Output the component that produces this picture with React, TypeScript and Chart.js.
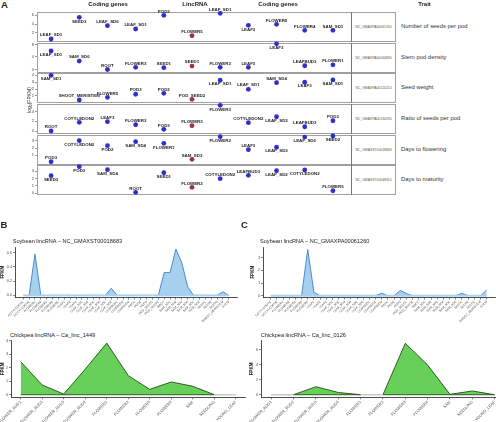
import React, { useEffect, useRef } from "react";
import { Chart, registerables } from "chart.js";
Chart.register(...registerables);

const FONT = "'Liberation Sans', Arial, Helvetica, sans-serif";

// ---------------- Panel A data ----------------
const slotKinds = ["coding", "coding", "coding", "coding", "coding", "lincRNA", "coding", "coding", "coding", "coding", "coding"];
const traitNames = ["Number of seeds per pod", "Stem pod density", "Seed weight", "Ratio of seeds per pod", "Days to flowering", "Days to maturity"];
const lincRnaIds = ["NC_GMAXPA00061260", "NC_GMAXPA00064830", "NC_GMAXPA00120210", "NC_GMAXPA00130290", "NC_GMAXST00018683", "NC_GMAXST00048315"];

const row1Tissues = ["LEAF_SD1", "SEED3", "LEAF_SD6", "LEAF_SD1", "POD3", "FLOWER5", "LEAF_SD1", "LEAF3", "FLOWER5", "FLOWER4", "SAM_SD1"];
const row1Log2Fpkm = [0.67, 5.49, 3.62, 2.89, 5.93, 1.4, 6.38, 3.71, 3.93, 2.6, 2.6];
const row1LabelSide = ["up", "down", "up", "up", "up", "up", "up", "down", "up", "up", "up"];
const row1Range = [0.22, 6.67];
const row1Ticks = [2, 4, 6];

const row2Tissues = ["LEAF_SD1", "SAM_SD6", "ROOT", "FLOWER3", "SEED1", "SEED1", "FLOWER3", "LEAF3", "LEAF3", "LEAFBUD3", "FLOWER1"];
const row2Log2Fpkm = [5.9, 2.7, 0, 0.7, 0.57, 1.1, 0.7, 0.7, 8.2, 1.2, 1.5];
const row2LabelSide = ["down", "up", "up", "up", "up", "up", "up", "up", "down", "up", "up"];
const row2Range = [-0.8, 8.45];
const row2Ticks = [0, 2, 4, 6, 8];

const row3Tissues = ["SAM_SD1", "SHOOT_MERISTEM", "FLOWER5", "POD3", "POD2", "POD_SEED2", "LEAF_SD1", "LEAF_SD1", "SAM_SD4", "LEAF3", "SAM_SD1"];
const row3Log2Fpkm = [4.0, 0.42, 0.81, 1.25, 1.39, 0.52, 3.28, 1.97, 2.93, 2.99, 3.32];
const row3LabelSide = ["down", "up", "up", "up", "up", "up", "down", "up", "up", "down", "down"];
const row3Range = [0.13, 4.33];
const row3Ticks = [1, 2, 3, 4];

const row4Tissues = ["ROOT", "COTYLEDON2", "LEAF3", "FLOWER3", "POD3", "FLOWER3", "FLOWER3", "COTYLEDON2", "LEAF_SD3", "LEAFBUD3", "POD2"];
const row4Log2Fpkm = [0, 1.8, 1.93, 1.3, 0.35, 1.1, 5.32, 1.72, 2.96, 0.89, 2.13];
const row4LabelSide = ["up", "up", "up", "up", "up", "up", "down", "up", "down", "up", "up"];
const row4Range = [-0.41, 5.6];
const row4Ticks = [0, 2, 4];

const row5Tissues = ["POD3", "COTYLEDON2", "POD2", "SAM_SD4", "FLOWER1", "SAM_SD3", "FLOWER2", "LEAF3", "LEAF_SD3", "LEAF_SD6", "SEED2"];
const row5Log2Fpkm = [0.12, 3.0, 2.32, 2.86, 2.64, 0.45, 3.55, 1.77, 2.1, 3.5, 3.64];
const row5LabelSide = ["up", "down", "down", "down", "down", "up", "down", "up", "down", "down", "down"];
const row5Range = [-0.19, 3.78];
const row5Ticks = [1, 2, 3];

const row6Tissues = ["SEED3", "POD3", "SAM_SD4", "ROOT", "SEED1", "FLOWER2", "COTYLEDON2", "LEAFBUD3", "LEAF_SD2", "COTYLEDON2", "FLOWER5"];
const row6Log2Fpkm = [2.37, 3.58, 3.18, 0.13, 2.77, 0.81, 1.97, 2.42, 3.04, 3.14, 0.35];
const row6LabelSide = ["down", "down", "down", "up", "down", "up", "up", "up", "down", "down", "up"];
const row6Range = [-0.09, 3.81];
const row6Ticks = [0, 1, 2, 3];

// ---------------- Panels B / C data ----------------
const soybeanTissues = [
  "COTYLEDON1", "COTYLEDON2", "FLOWER1", "FLOWER2", "FLOWER3", "FLOWER4", "FLOWER5",
  "LEAF1", "LEAF2", "LEAF3", "LEAF_SD1", "LEAF_SD2", "LEAF_SD3", "LEAF_SD4", "LEAF_SD5", "LEAF_SD6",
  "LEAFBUD1", "LEAFBUD2", "LEAFBUD3", "POD1", "POD2", "POD3", "POD_SEED1", "POD_SEED2", "ROOT",
  "SAM_SD1", "SAM_SD2", "SAM_SD3", "SAM_SD4", "SAM_SD5", "SAM_SD6", "SEED1", "SEED2", "SEED3",
  "SHOOT_MERISTEM", "STEM",
];
const soyB_NC_GMAXST00018683 = [0, 0, 0.58, 0, 0, 0, 0, 0, 0, 0, 0, 0, 0, 0, 0, 0.1, 0, 0, 0, 0, 0, 0, 0, 0, 0.32, 0.32, 0.65, 0.46, 0.12, 0, 0, 0, 0, 0, 0.05, 0];
const soyC_NC_GMAXPA00061260 = [0, 0, 0, 0, 0, 0, 3.65, 0.27, 0, 0, 0, 0, 0, 0, 0, 0, 0, 0, 0.2, 0, 0, 0.42, 0.18, 0, 0, 0, 0, 0, 0, 0, 0, 0.2, 0, 0, 0, 0.45];
const soyB_Ticks = [0, 0.2, 0.4, 0.6];
const soyC_Ticks = [0, 1, 2, 3];

const chickpeaTissues = ["FLOWER_BUD1", "FLOWER_BUD2", "FLOWER_BUD3", "FLOWER_BUD4", "FLOWER1", "FLOWER2", "FLOWER3", "FLOWER4", "SAM", "SEEDLING", "YOUNG_LEAF"];
const chickB_Ca_linc_1449 = [2.46, 0.72, 0.05, 1.9, 3.84, 1.42, 0.4, 0.95, 0.63, 0, 0];
const chickC_Ca_linc_0126 = [0, 0, 1.07, 0.3, 0, 0, 6.9, 3.98, 0.05, 0.5, 0];
const chickB_Ticks = [0, 1, 2, 3, 4];
const chickC_Ticks = [0, 2, 4, 6];

// ---------------- layout (styling) ----------------
const ROW_TOPS = [12, 43, 73, 104, 135, 165];
const ROW_H = 29;
const ROW_PAD = 6;
const BLUE = "#2f2fcc";
const RED = "#a3323f";

const ROWS = [
  { tissues: row1Tissues, values: row1Log2Fpkm, side: row1LabelSide, range: row1Range, ticks: row1Ticks },
  { tissues: row2Tissues, values: row2Log2Fpkm, side: row2LabelSide, range: row2Range, ticks: row2Ticks },
  { tissues: row3Tissues, values: row3Log2Fpkm, side: row3LabelSide, range: row3Range, ticks: row3Ticks },
  { tissues: row4Tissues, values: row4Log2Fpkm, side: row4LabelSide, range: row4Range, ticks: row4Ticks },
  { tissues: row5Tissues, values: row5Log2Fpkm, side: row5LabelSide, range: row5Range, ticks: row5Ticks },
  { tissues: row6Tissues, values: row6Log2Fpkm, side: row6LabelSide, range: row6Range, ticks: row6Ticks },
];

function makeRow(canvas: HTMLCanvasElement, row: any) {
  const labelPlugin = {
    id: "pointLabels",
    afterDatasetsDraw(chart: any) {
      const ctx = chart.ctx;
      const meta = chart.getDatasetMeta(0);
      ctx.save();
      ctx.font = `bold 4.4px ${FONT}`;
      ctx.fillStyle = "#222";
      ctx.textAlign = "center";
      ctx.textBaseline = "middle";
      meta.data.forEach((pt: any, i: number) => {
        const dy = row.side[i] === "up" ? -4 : 4;
        ctx.fillText(row.tissues[i], pt.x, pt.y + dy);
      });
      ctx.restore();
    },
  };
  return new Chart(canvas, {
    type: "scatter",
    data: {
      datasets: [
        {
          data: row.values.map((v: number, i: number) => ({ x: i, y: v })),
          pointBackgroundColor: slotKinds.map((k) => (k === "lincRNA" ? RED : BLUE)),
          pointBorderWidth: 0,
          pointRadius: 2.4,
          clip: false as any,
        },
      ],
    },
    options: {
      animation: false,
      responsive: false,
      events: [],
      layout: { padding: { top: ROW_PAD, bottom: ROW_PAD, left: 0, right: 0 } },
      plugins: { legend: { display: false }, tooltip: { enabled: false } },
      scales: {
        x: { type: "linear", display: false, min: -0.5, max: 10.5 },
        y: {
          type: "linear",
          min: row.range[0],
          max: row.range[1],
          bounds: "data",
          afterBuildTicks: (s: any) => {
            s.ticks = row.ticks.map((v: number) => ({ value: v }));
          },
          afterFit: (s: any) => {
            s.width = 17;
            s.paddingTop = 0;
            s.paddingBottom = 0;
          },
          border: { display: false },
          grid: { drawOnChartArea: false, drawTicks: true, tickLength: 2, color: "#555", lineWidth: 0.6 },
          ticks: { font: { size: 4, family: FONT }, color: "#444", padding: 1 },
        },
      },
    } as any,
    plugins: [labelPlugin],
  });
}

type AreaSpec = {
  categories: string[];
  values: number[];
  yMin: number;
  yMax: number;
  yTicks: number[];
  yDecimals: number;
  xMin: number;
  xMax: number;
  yWidth: number;
  xHeight: number;
  padTop: number;
  padRight: number;
  fill: string;
  line: string;
  zeroLine: string;
  zeroWidth: number;
  baseLine: string;
  baseWidth: number;
  xFont: number;
  titlePad: number;
};

function makeArea(canvas: HTMLCanvasElement, spec: AreaSpec) {
  const isZero = (i: number) => spec.values[i] === 0 && spec.values[i + 1] === 0;
  const baselinePlugin = {
    id: "baseline",
    afterDatasetsDraw(chart: any) {
      const { ctx, scales } = chart;
      const x = scales.x;
      const y = scales.y;
      const y0 = y.getPixelForValue(0);
      ctx.save();
      for (let i = 0; i < spec.values.length - 1; i++) {
        const z = isZero(i);
        ctx.strokeStyle = z ? spec.zeroLine : spec.baseLine;
        ctx.lineWidth = z ? spec.zeroWidth : spec.baseWidth;
        ctx.beginPath();
        ctx.moveTo(x.getPixelForValue(i), y0);
        ctx.lineTo(x.getPixelForValue(i + 1), y0);
        ctx.stroke();
      }
      ctx.restore();
    },
  };
  return new Chart(canvas, {
    type: "line",
    data: {
      datasets: [
        {
          data: spec.values.map((v, i) => ({ x: i, y: v })),
          fill: "origin",
          backgroundColor: spec.fill,
          borderColor: spec.line,
          borderWidth: 1,
          pointRadius: 0,
          tension: 0,
          segment: {
            borderColor: (ctx: any) => (isZero(ctx.p0DataIndex) ? "rgba(0,0,0,0)" : spec.line),
          },
        },
      ],
    },
    options: {
      animation: false,
      responsive: false,
      events: [],
      layout: { padding: { top: spec.padTop, right: spec.padRight, left: 0, bottom: 0 } },
      plugins: { legend: { display: false }, tooltip: { enabled: false } },
      scales: {
        x: {
          type: "linear",
          min: spec.xMin,
          max: spec.xMax,
          bounds: "data",
          afterBuildTicks: (s: any) => {
            s.ticks = spec.categories.map((_, i) => ({ value: i }));
          },
          afterFit: (s: any) => {
            s.height = spec.xHeight;
            s.paddingLeft = 0;
            s.paddingRight = 0;
          },
          ticks: {
            autoSkip: false,
            minRotation: 45,
            maxRotation: 45,
            padding: 0.5,
            font: { size: spec.xFont, family: FONT },
            color: "#4d4d4d",
            callback: (v: any) => spec.categories[Math.round(Number(v))] ?? "",
          },
          grid: { drawOnChartArea: false, drawTicks: true, tickLength: 2, color: "#333", lineWidth: 0.6 },
          border: { display: true, color: "#222", width: 0.8 },
        },
        y: {
          type: "linear",
          min: spec.yMin,
          max: spec.yMax,
          bounds: "data",
          afterBuildTicks: (s: any) => {
            s.ticks = spec.yTicks.map((v) => ({ value: v }));
          },
          afterFit: (s: any) => {
            s.width = spec.yWidth;
            s.paddingTop = 0;
            s.paddingBottom = 0;
          },
          ticks: {
            font: { size: 3.8, family: FONT },
            color: "#4d4d4d",
            padding: 1,
            callback: (v: any) => Number(v).toFixed(spec.yDecimals),
          },
          title: {
            display: true,
            text: "FPKM",
            font: { size: 4.5, weight: "bold", family: FONT },
            color: "#222",
            padding: { top: spec.titlePad, bottom: 0 },
          },
          grid: { drawOnChartArea: false, drawTicks: true, tickLength: 2, color: "#333", lineWidth: 0.6 },
          border: { display: true, color: "#222", width: 0.8 },
        },
      },
    } as any,
    plugins: [baselinePlugin],
  });
}

const SOY_FILL = "#a7d0ee";
const SOY_LINE = "#4a8bd0";
const CHICK_FILL = "#68d05a";
const CHICK_LINE = "#2b5d20";

const B_SOY: AreaSpec = {
  categories: soybeanTissues, values: soyB_NC_GMAXST00018683, yMin: -0.03, yMax: 0.68, yTicks: soyB_Ticks, yDecimals: 1,
  xMin: -1.4, xMax: 36.4, yWidth: 15, xHeight: 38.5, padTop: 3, padRight: 3,
  fill: SOY_FILL, line: SOY_LINE, zeroLine: SOY_FILL, zeroWidth: 2, baseLine: SOY_FILL, baseWidth: 2, xFont: 3.1, titlePad: 0,
};
const C_SOY: AreaSpec = {
  categories: soybeanTissues, values: soyC_NC_GMAXPA00061260, yMin: -0.14, yMax: 3.85, yTicks: soyC_Ticks, yDecimals: 0,
  xMin: -1.25, xMax: 36.35, yWidth: 15, xHeight: 38.5, padTop: 3, padRight: 1,
  fill: SOY_FILL, line: SOY_LINE, zeroLine: SOY_FILL, zeroWidth: 2, baseLine: SOY_FILL, baseWidth: 2, xFont: 3.1, titlePad: 2,
};
const B_CHICK: AreaSpec = {
  categories: chickpeaTissues, values: chickB_Ca_linc_1449, yMin: -0.19, yMax: 4.04, yTicks: chickB_Ticks, yDecimals: 0,
  xMin: -0.45, xMax: 10.45, yWidth: 11, xHeight: 24.7, padTop: 3.4, padRight: 2.5,
  fill: CHICK_FILL, line: CHICK_LINE, zeroLine: "#c9c9c9", zeroWidth: 1.5, baseLine: CHICK_LINE, baseWidth: 1, xFont: 4, titlePad: 0,
};
const C_CHICK: AreaSpec = {
  categories: chickpeaTissues, values: chickC_Ca_linc_0126, yMin: -0.345, yMax: 7.245, yTicks: chickC_Ticks, yDecimals: 0,
  xMin: -0.46, xMax: 10.06, yWidth: 13, xHeight: 24.7, padTop: 3.7, padRight: 0,
  fill: CHICK_FILL, line: CHICK_LINE, zeroLine: "#c9c9c9", zeroWidth: 1.5, baseLine: CHICK_LINE, baseWidth: 1, xFont: 4, titlePad: 1,
};

function Txt(props: { x: number; y: number; size: number; text: React.ReactNode; bold?: boolean; align?: "left" | "center"; color?: string }) {
  const { x, y, size, text, bold, align = "left", color = "#222" } = props;
  const lh = size * 1.2;
  return (
    <div
      style={{
        position: "absolute",
        left: align === "center" ? x - 100 : x,
        top: y - lh / 2,
        width: align === "center" ? 200 : undefined,
        textAlign: align,
        fontSize: size,
        lineHeight: `${lh}px`,
        fontWeight: bold ? 700 : 400,
        color,
        whiteSpace: "nowrap",
        fontFamily: FONT,
      }}
    >
      {text}
    </div>
  );
}

export default function App() {
  const rowRefs = useRef<(HTMLCanvasElement | null)[]>([]);
  const bSoyRef = useRef<HTMLCanvasElement>(null);
  const bChickRef = useRef<HTMLCanvasElement>(null);
  const cSoyRef = useRef<HTMLCanvasElement>(null);
  const cChickRef = useRef<HTMLCanvasElement>(null);

  useEffect(() => {
    const charts: Chart[] = [];
    ROWS.forEach((row, r) => {
      const c = rowRefs.current[r];
      if (c) charts.push(makeRow(c, row));
    });
    if (bSoyRef.current) charts.push(makeArea(bSoyRef.current, B_SOY));
    if (bChickRef.current) charts.push(makeArea(bChickRef.current, B_CHICK));
    if (cSoyRef.current) charts.push(makeArea(cSoyRef.current, C_SOY));
    if (cChickRef.current) charts.push(makeArea(cChickRef.current, C_CHICK));
    return () => charts.forEach((ch) => ch.destroy());
  }, []);

  const canvasStyle = (l: number, t: number, w: number, h: number): React.CSSProperties => ({
    position: "absolute", left: l, top: t, width: w, height: h,
  });

  return (
    <div style={{ position: "absolute", left: 0, top: 0, width: 496, height: 422, background: "#fff", overflow: "hidden", fontFamily: FONT }}>
      {/* Panel A boxes */}
      {ROW_TOPS.map((t, r) => (
        <React.Fragment key={"box" + r}>
          <div style={{ position: "absolute", left: 37, top: t, width: 359, height: ROW_H + 1, border: "1px solid #a0a0a0", boxSizing: "border-box" }} />
          <div style={{ position: "absolute", left: 351, top: t, width: 1, height: ROW_H + 1, background: "#777" }} />
          <Txt x={373.5} y={t + ROW_H / 2 + 0.5} size={3.4} text={lincRnaIds[r]} align="center" color="#555" />
          <Txt x={401} y={t + ROW_H / 2 + 0.5} size={5.9} text={traitNames[r]} color="#333" />
        </React.Fragment>
      ))}
      {ROWS.map((_, r) => (
        <canvas
          key={"row" + r}
          ref={(el) => { rowRefs.current[r] = el; }}
          width={331}
          height={ROW_H + 2 * ROW_PAD}
          style={canvasStyle(20, ROW_TOPS[r] - ROW_PAD, 331, ROW_H + 2 * ROW_PAD)}
        />
      ))}

      <Txt x={1} y={5} size={9.5} text="A" bold />
      <Txt x={108} y={4.5} size={6} text="Coding genes" bold align="center" />
      <Txt x={195} y={4.5} size={6} text="LincRNA" bold align="center" />
      <Txt x={278} y={4.5} size={6} text="Coding genes" bold align="center" />
      <Txt x={424.5} y={4.5} size={6} text="Trait" bold align="center" />
      <div
        style={{
          position: "absolute", left: 29 - 50, top: 100 - 3, width: 100, height: 6, lineHeight: "6px",
          textAlign: "center", fontSize: 5, color: "#222", transform: "rotate(-90deg)", whiteSpace: "nowrap", fontFamily: FONT,
        }}
      >
        log<sub style={{ fontSize: 3.5, verticalAlign: "-1px", lineHeight: 0 }}>2</sub>(FPKM)
      </div>

      {/* Panels B & C */}
      <Txt x={0.5} y={225} size={9.5} text="B" bold />
      <Txt x={241} y={225} size={9.5} text="C" bold />
      <Txt x={12.7} y={241} size={5.6} text="Soybean lincRNA – NC_GMAXST00018683" />
      <Txt x={260} y={241} size={5.6} text="Soybean lincRNA – NC_GMAXPA00061260" />
      <Txt x={10} y={335} size={5.6} text="Chickpea lincRNA – Ca_linc_1449" />
      <Txt x={260.7} y={335} size={5.6} text="Chickpea lincRNA – Ca_linc_0126" />

      <canvas ref={bSoyRef} width={240} height={92} style={canvasStyle(0, 244, 240, 92)} />
      <canvas ref={bChickRef} width={248} height={85} style={canvasStyle(0, 337, 248, 85)} />
      <canvas ref={cSoyRef} width={248} height={92} style={canvasStyle(248, 244, 248, 92)} />
      <canvas ref={cChickRef} width={248} height={85} style={canvasStyle(248, 337, 248, 85)} />
    </div>
  );
}
